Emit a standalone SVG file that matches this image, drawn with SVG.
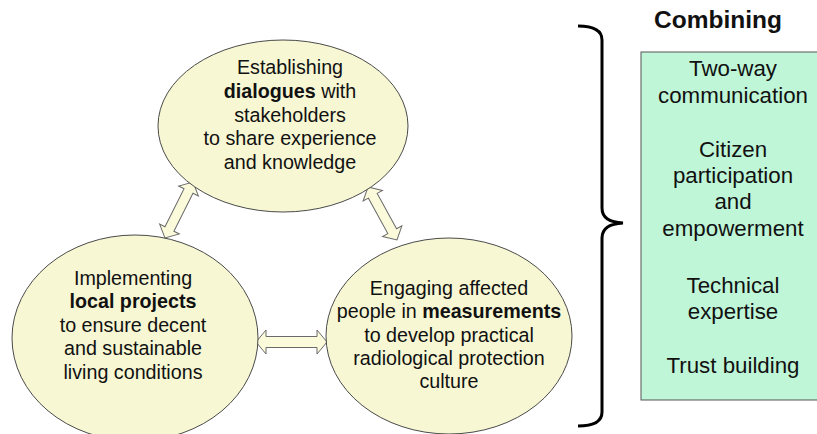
<svg xmlns="http://www.w3.org/2000/svg" width="817" height="434" viewBox="0 0 817 434">
<style>
  .node { fill: #F7F7D4; stroke: #4a4a4a; stroke-width: 1; }
  .t { font-family: "Liberation Sans", Arial, sans-serif; font-size: 19.7px; fill: #111; text-anchor: middle; }
  .b { font-weight: bold; }
  .g { font-family: "Liberation Sans", Arial, sans-serif; font-size: 22.3px; fill: #111; text-anchor: middle; }
  .arrow { fill: #FBFBDC; stroke: #6a6a6a; stroke-width: 1; stroke-linejoin: miter; }
</style>
<rect width="817" height="434" fill="#ffffff"/>

<g id="connectors">
  <path class="arrow" transform="translate(256,342)" d="M0,0 L10,-12 L10,-5.5 L61,-5.5 L61,-12 L71,0 L61,12 L61,5.5 L10,5.5 L10,12 Z"/>
  <path class="arrow" transform="translate(193,182) rotate(116.6)" d="M0,0 L10,-11 L10,-5 L52.6,-5 L52.6,-11 L62.6,0 L52.6,11 L52.6,5 L10,5 L10,11 Z"/>
  <path class="arrow" transform="translate(368,187) rotate(61.3)" d="M0,0 L10,-11 L10,-5 L50.4,-5 L50.4,-11 L60.4,0 L50.4,11 L50.4,5 L10,5 L10,11 Z"/>
</g>

<g id="node-dialogues">
  <ellipse class="node" cx="283" cy="126" rx="125" ry="86"/>
  <text class="t" x="290" y="74">Establishing</text>
  <text class="t" x="290" y="98"><tspan class="b">dialogues</tspan> with</text>
  <text class="t" x="290" y="122">stakeholders</text>
  <text class="t" x="290" y="145">to share experience</text>
  <text class="t" x="290" y="169">and knowledge</text>
</g>

<g id="node-projects">
  <ellipse class="node" cx="135" cy="338" rx="123" ry="103"/>
  <text class="t" x="133" y="285">Implementing</text>
  <text class="t b" x="133" y="308">local projects</text>
  <text class="t" x="133" y="332">to ensure decent</text>
  <text class="t" x="133" y="355">and sustainable</text>
  <text class="t" x="133" y="379">living conditions</text>
</g>

<g id="node-measurements">
  <ellipse class="node" cx="449" cy="336" rx="123" ry="98"/>
  <text class="t" x="449" y="295">Engaging affected</text>
  <text class="t" x="449" y="318">people in <tspan class="b">measurements</tspan></text>
  <text class="t" x="449" y="342">to develop practical</text>
  <text class="t" x="449" y="365">radiological protection</text>
  <text class="t" x="449" y="388">culture</text>
</g>

<g id="brace">
  <path d="M578,26 Q602,26 602,40 L602,208 Q602,222 623,223 Q602,224 602,238 L602,412 Q602,426 578,426" fill="none" stroke="#000" stroke-width="3"/>
</g>

<g id="combining">
  <text class="b" x="718" y="28" font-family="Liberation Sans, Arial, sans-serif" font-size="24.5" fill="#111" text-anchor="middle">Combining</text>
  <rect x="641" y="52" width="190" height="348" fill="#C0F6D8" stroke="#555" stroke-width="1"/>
  <text class="g" x="733" y="76">Two-way</text>
  <text class="g" x="733" y="103">communication</text>
  <text class="g" x="733" y="157">Citizen</text>
  <text class="g" x="733" y="183">participation</text>
  <text class="g" x="733" y="209">and</text>
  <text class="g" x="733" y="236">empowerment</text>
  <text class="g" x="733" y="293">Technical</text>
  <text class="g" x="733" y="319">expertise</text>
  <text class="g" x="733" y="373">Trust building</text>
</g>
</svg>
